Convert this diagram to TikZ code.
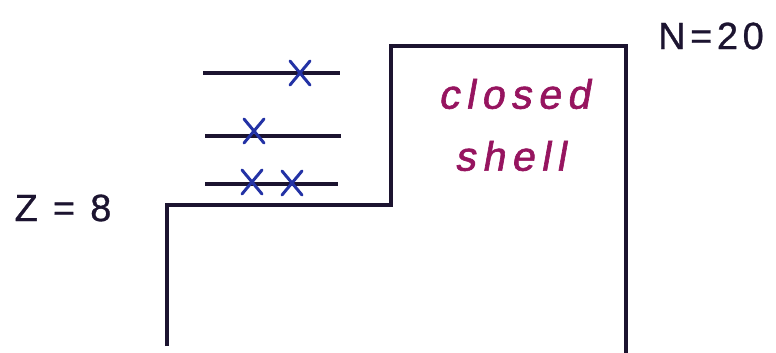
\documentclass[tikz,border=0pt]{standalone}
\usepackage{fontspec}
\setmainfont{Liberation Sans}
\newfontfamily\handfont[FakeSlant=0.18,LetterSpace=16,FakeBold=1.5]{Liberation Sans}
\newfontfamily\labelfont[LetterSpace=12,FakeBold=0.8]{Liberation Sans}
\definecolor{inkline}{RGB}{28,20,48}
\definecolor{inkblue}{RGB}{35,50,165}
\definecolor{inkmagenta}{RGB}{150,20,95}
\tikzset{
  wall/.style={draw=inkline, line width=3.4pt, line join=miter},
  level/.style={draw=inkline, line width=3.2pt},
  particle/.pic={\draw[inkblue, line width=3pt, line cap=round]
     (-10,-12) -- (10,12) (-10,12) -- (10,-12);},
  handtext/.style={text=inkmagenta, font=\handfont\fontsize{41}{41}\selectfont, inner sep=0pt},
  numtext/.style={text=inkline, font=\labelfont\fontsize{38}{38}\selectfont, inner sep=0pt}
}
\begin{document}
\begin{tikzpicture}[x=1pt,y=-1pt]
  \useasboundingbox (0,0) rectangle (776,353);
  % potential well outline
  \draw[wall] (167,346) -- (167,205) -- (391,205) -- (391,46) -- (626,46) -- (626,353);
  % single-particle levels
  \draw[level] (203,73) -- (340,73);
  \draw[level] (205,136) -- (341,136);
  \draw[level] (205,184) -- (338,184);
  % occupied states
  \pic at (300,73) {particle};
  \pic at (254,131) {particle};
  \pic at (252,182) {particle};
  \pic at (292,183) {particle};
  % labels
  \node[handtext] (closed) at (514,94) {closed};
  \node[handtext] (shell) at (510,156) {shell};
  \node[numtext] (nlabel) at (711,36) {N=20};
  \node[numtext] (zlabel) at (63,208) {Z = 8};
\end{tikzpicture}
\end{document}
